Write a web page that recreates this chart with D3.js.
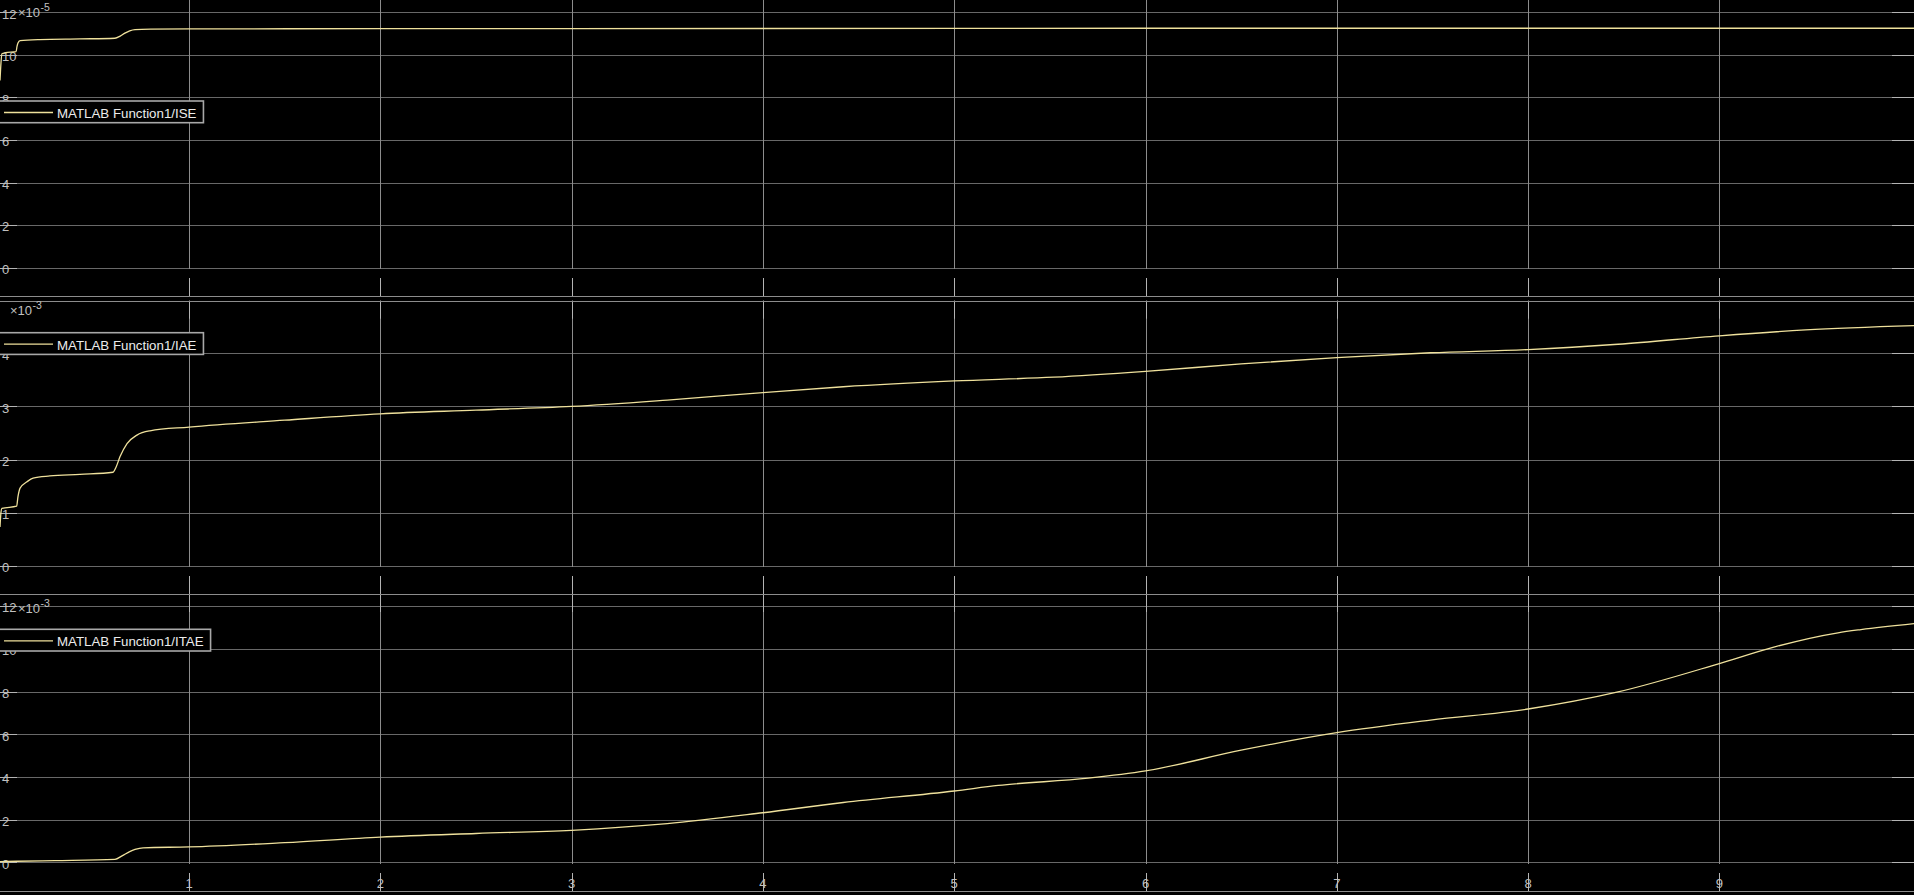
<!DOCTYPE html>
<html>
<head>
<meta charset="utf-8">
<script src="https://cdn.jsdelivr.net/npm/d3@7"></script>
<style>
html,body{margin:0;padding:0;background:#000;overflow:hidden;}
svg{display:block;font-family:"Liberation Sans",Arial,sans-serif;}
</style>
</head>
<body>
<svg id="chart" width="1914" height="895"></svg>
<script>
// ---------- data ----------
const xTicks = [1, 2, 3, 4, 5, 6, 7, 8, 9];

const seriesNames = ["MATLAB Function1/ISE", "MATLAB Function1/IAE", "MATLAB Function1/ITAE"];
const exponentLabels = ["-5", "-3", "-3"];

const iseTicks  = [0, 2, 4, 6, 8, 10, 12];
const iaeTicks  = [0, 1, 2, 3, 4];
const itaeTicks = [0, 2, 4, 6, 8, 10, 12];

// ISE  (x 1e-5)
const iseTime  = [0.012, 0.017, 0.022, 0.04, 0.096, 0.101, 0.106, 0.117, 0.22, 0.43, 0.613, 0.64, 0.665, 0.69, 0.718, 0.8, 1.0, 2, 4, 6, 8, 10.02];
const iseValue = [8.8, 9.6, 10.05, 10.1, 10.15, 10.4, 10.56, 10.67, 10.72, 10.75, 10.78, 10.88, 11.02, 11.13, 11.19, 11.21, 11.22, 11.23, 11.24, 11.25, 11.25, 11.25];

// IAE  (x 1e-3)
const iaeTime  = [0.012, 0.017, 0.022, 0.099, 0.106, 0.117, 0.153, 0.185, 0.273, 0.43, 0.603, 0.618, 0.639, 0.676, 0.728, 0.796, 1.0, 1.5, 2, 2.5, 3, 3.5, 4, 4.42, 5, 5.52, 6, 6.5, 7, 7.49, 8, 8.47, 9, 9.45, 10.02];
const iaeValue = [0.73, 1.0, 1.08, 1.12, 1.3, 1.46, 1.58, 1.65, 1.69, 1.72, 1.76, 1.85, 2.05, 2.30, 2.46, 2.54, 2.61, 2.74, 2.86, 2.93, 3.00, 3.12, 3.26, 3.37, 3.48, 3.55, 3.66, 3.80, 3.92, 4.01, 4.07, 4.17, 4.33, 4.44, 4.52];

// ITAE (x 1e-3)
const itaeTime  = [0.012, 0.1, 0.3, 0.613, 0.65, 0.69, 0.718, 0.76, 1.0, 1.5, 2, 2.5, 3, 3.5, 4, 4.42, 5, 5.23, 5.7, 6, 6.5, 7, 7.49, 8, 8.47, 9, 9.28, 9.62, 9.74, 10.02];
const itaeValue = [0.03, 0.05, 0.08, 0.14, 0.3, 0.5, 0.6, 0.68, 0.72, 0.92, 1.18, 1.35, 1.50, 1.81, 2.32, 2.80, 3.34, 3.60, 3.94, 4.28, 5.25, 6.07, 6.66, 7.18, 7.98, 9.31, 10.07, 10.75, 10.9, 11.18];

// ---------- layout ----------
const W = 1914;
const lineColor = "#efe19c";
const hGridColor = "#686868";
const vGridColor = "#8c8c8c";
const tickColor = "#b4b4b4";
const borderColor = "#8c8c8c";
const textColor = "#c0c0c0";

const x = d3.scaleLinear().domain([0, 10]).range([-2.3, 1910.7]);

const panels = [
  {top: 0,     bottom: 296, y0: 267.7, yTopPx: 12.3,  topVal: 12, ticks: iseTicks,  time: iseTime,  vals: iseValue,  name: seriesNames[0], exp: exponentLabels[0], expX: 18, expBase: 17,    legendY: 101,   showX: false},
  {top: 300.7, bottom: 594, y0: 565.7, yTopPx: 353.3, topVal: 4,  ticks: iaeTicks,  time: iaeTime,  vals: iaeValue,  name: seriesNames[1], exp: exponentLabels[1], expX: 10, expBase: 315,   legendY: 332.7, showX: false},
  {top: 594,   bottom: 891, y0: 862.3, yTopPx: 606.1, topVal: 12, ticks: itaeTicks, time: itaeTime, vals: itaeValue, name: seriesNames[2], exp: exponentLabels[2], expX: 18, expBase: 613.3, legendY: 629.3, showX: true}
];

const svg = d3.select("#chart");
svg.append("rect").attr("width", W).attr("height", 895).attr("fill", "#000");

const gGrid = svg.append("g");
const gText = svg.append("g");
const gLines = svg.append("g");
const gLegend = svg.append("g");
const gExp = svg.append("g");

panels.forEach((p, i) => {
  const y = d3.scaleLinear().domain([0, p.topVal]).range([p.y0, p.yTopPx]);

  // horizontal grid + y ticks
  p.ticks.forEach(t => {
    const yy = Math.round(y(t)) + 0.5;
    gGrid.append("line").attr("x1", 0).attr("x2", W).attr("y1", yy).attr("y2", yy)
      .attr("stroke", hGridColor).attr("stroke-width", 1);
    gGrid.append("line").attr("x1", 0).attr("x2", 17).attr("y1", yy).attr("y2", yy)
      .attr("stroke", tickColor).attr("stroke-width", 1);
    gGrid.append("line").attr("x1", W - 22).attr("x2", W).attr("y1", yy).attr("y2", yy)
      .attr("stroke", tickColor).attr("stroke-width", 1);
    gText.append("text").attr("x", 2).attr("y", y(t) + 6.3)
      .attr("fill", textColor).attr("font-size", 13).text(t);
  });

  // vertical grid + x ticks
  xTicks.forEach(t => {
    const xx = Math.round(x(t)) + 0.5;
    gGrid.append("line").attr("x1", xx).attr("x2", xx).attr("y1", p.top).attr("y2", p.bottom - 27)
      .attr("stroke", vGridColor).attr("stroke-width", 1);
    gGrid.append("line").attr("x1", xx).attr("x2", xx).attr("y1", p.bottom - 18).attr("y2", p.bottom)
      .attr("stroke", tickColor).attr("stroke-width", 1);
    if (i > 0) {
      gGrid.append("line").attr("x1", xx).attr("x2", xx).attr("y1", p.top).attr("y2", p.top + 18)
        .attr("stroke", tickColor).attr("stroke-width", 1);
    }
    if (p.showX) {
      gText.append("text").attr("x", x(t)).attr("y", p.bottom - 3)
        .attr("text-anchor", "middle").attr("fill", textColor).attr("font-size", 13).text(t);
    }
  });

  // panel borders
  [p.top, p.bottom].forEach(b => {
    if (b > 0) {
      gGrid.append("line").attr("x1", 0).attr("x2", W).attr("y1", Math.round(b) + 0.5).attr("y2", Math.round(b) + 0.5)
        .attr("stroke", borderColor).attr("stroke-width", 1.2);
    }
  });

  // data line
  const pts = p.time.map((t, k) => [t, p.vals[k]]);
  const line = d3.line().x(d => x(d[0])).y(d => y(d[1])).curve(d3.curveMonotoneX);
  gLines.append("path").attr("d", line(pts)).attr("fill", "none")
    .attr("stroke", lineColor).attr("stroke-width", 1.3);

  // legend
  const lg = gLegend.append("g");
  const rect = lg.append("rect").attr("x", -2).attr("y", p.legendY).attr("height", 21.7)
    .attr("fill", "#000").attr("stroke", "#a8a8a8").attr("stroke-width", 1.6);
  lg.append("line").attr("x1", 4).attr("x2", 53)
    .attr("y1", p.legendY + 11.5).attr("y2", p.legendY + 11.5)
    .attr("stroke", lineColor).attr("stroke-width", 1.3);
  const txt = lg.append("text").attr("x", 57).attr("y", p.legendY + 16.8)
    .attr("fill", "#ececec").attr("font-size", 13.3).text(p.name);
  const tw = txt.node().getComputedTextLength();
  rect.attr("width", 57 + tw + 7 + 2);

  // exponent label
  const e1 = gExp.append("text").attr("x", p.expX).attr("y", p.expBase)
    .attr("fill", textColor).attr("font-size", 13).text("\u00d710");
  const ew = e1.node().getComputedTextLength();
  gExp.append("text").attr("x", p.expX + ew + 0.5).attr("y", p.expBase - 6)
    .attr("fill", textColor).attr("font-size", 10.5).text(p.exp);
});
</script>
</body>
</html>
